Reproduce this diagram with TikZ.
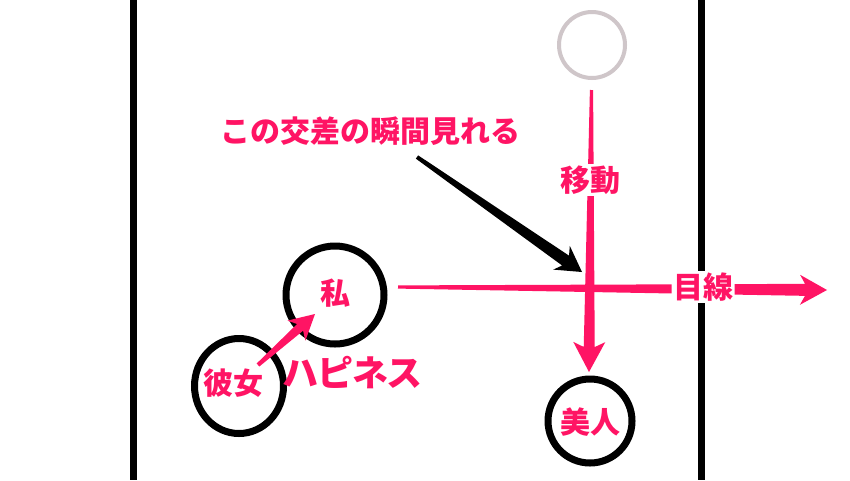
\documentclass[tikz,border=0pt]{standalone}
\usepackage{fontspec}
\usetikzlibrary{calc,shapes.geometric}
\newfontfamily\jp{Noto Sans CJK JP}
\newfontfamily\jpp{Noto Sans CJK JP}[RawFeature=+palt]
\definecolor{hot}{HTML}{FF1464}
\definecolor{ghost}{HTML}{CFC6C9}
\tikzset{
  lbl/.style={font=\jp\bfseries\fontsize{30}{30}\selectfont, inner sep=0pt, text=hot},
  onlbl/.style={lbl, fill=white, inner sep=1.5pt, rounded corners=3pt},
  bigl/.style={lbl, font=\jpp\bfseries\fontsize{36}{36}\selectfont},
  ring/.style={circle, draw=black, line width=7pt, inner sep=0pt},
  wall/.style={line width=7pt, draw=black},
}
% tapered arrow: start, tip, tail half width, shaft half width, join dist, barb dist, head half width, colour
\newcommand\taperarrow[8]{%
  \path ($(#2)!#5!(#1)$) coordinate (tjoin) ($(#2)!#6!(#1)$) coordinate (tbarb);
  \fill[#8] ($(#1)!#3!90:(#2)$) -- ($(tjoin)!#4!90:(#2)$) -- ($(tbarb)!#7!90:(#2)$) -- (#2)
     -- ($(tbarb)!#7!-90:(#2)$) -- ($(tjoin)!#4!-90:(#2)$) -- ($(#1)!#3!-90:(#2)$) -- cycle;}
\begin{document}
\begin{tikzpicture}[x=1pt,y=-1pt]
\useasboundingbox (0,0) rectangle (850,480);
\fill[white] (0,0) rectangle (850,480);
% walls
\draw[wall] (133,0) -- (133,480);
\draw[wall] (701,0) -- (701,480);
% circles
\node[ring, draw=ghost, line width=4pt, minimum size=66pt] (ghostc) at (592,45) {};
\node[ring, minimum size=98pt] (me) at (335,295) {};
\node[ring, ellipse, minimum width=89pt, minimum height=95pt] (her) at (239,386) {};
\node[ring, minimum size=84pt] (bijin) at (590,421) {};
% connector end points
\coordinate (vs) at (591.5,90);
\coordinate (vt) at (589,372);
\coordinate (hs) at (398,287);
\coordinate (ht) at (827,290);
\coordinate (bs) at (417,157);
\coordinate (bt) at (582,272);
\coordinate (ps) at (258,365);
\coordinate (pt) at (315,314);
% arrows
\taperarrow{hs}{ht}{1.6pt}{6pt}{22pt}{27pt}{15pt}{hot}
\taperarrow{vs}{vt}{1.6pt}{5.5pt}{25pt}{30pt}{16pt}{hot}
\taperarrow{bs}{bt}{2pt}{6pt}{20pt}{25pt}{14.5pt}{black}
\taperarrow{ps}{pt}{2pt}{4.5pt}{20pt}{25pt}{13.5pt}{hot}
% labels
\node[lbl] (callout) at (370,131) {この交差の瞬間見れる};
\node[onlbl] (move) at (590,180) {移動};
\node[onlbl] (gaze) at (703,287) {目線};
\node[lbl] (melbl) at (335,293) {私};
\node[lbl] (herlbl) at (233,383) {彼女};
\node[lbl] (bijinlbl) at (590,422) {美人};
\node[bigl] (happy) at (353,373) {ハピネス};
\end{tikzpicture}
\end{document}
